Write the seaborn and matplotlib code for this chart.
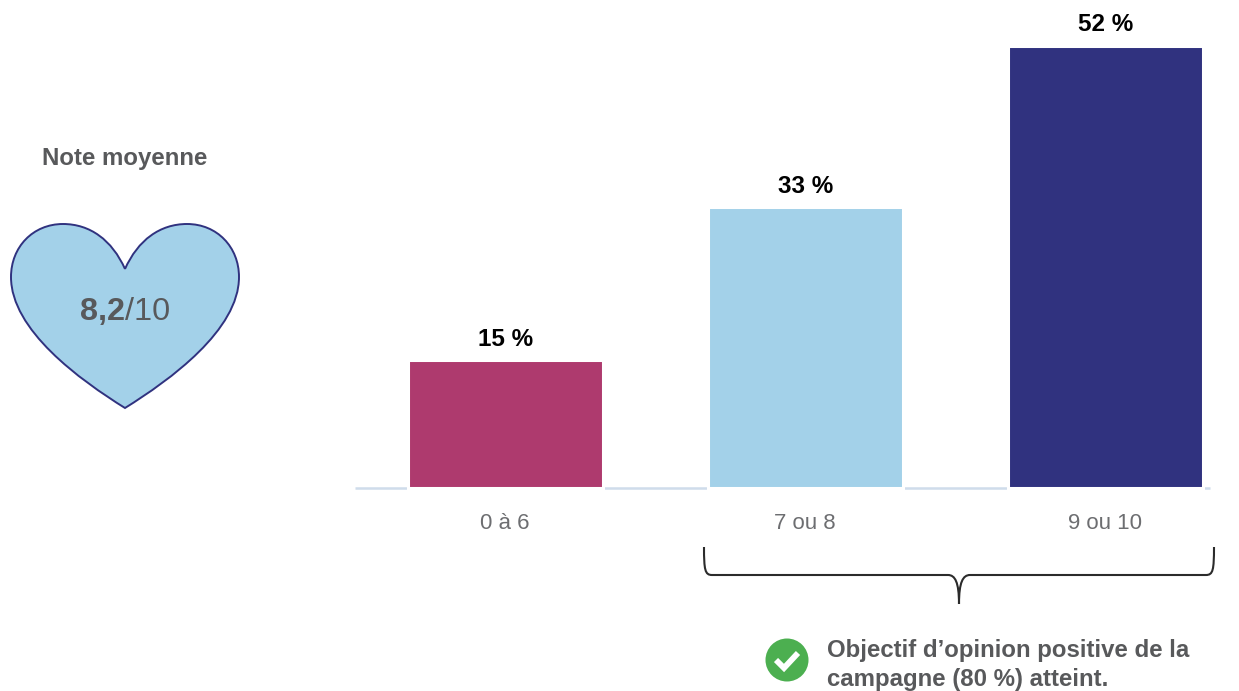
import matplotlib
matplotlib.use('Agg')
import matplotlib.pyplot as plt
from matplotlib.patches import PathPatch, Circle
from matplotlib.path import Path
import pandas as pd
import seaborn as sns

categories = ['0 à 6', '7 ou 8', '9 ou 10']
values = [15, 33, 52]
bar_labels = ['15 %', '33 %', '52 %']
bar_colors = ['#AE3A6E', '#A3D1E9', '#30327F']
note_title = 'Note moyenne'
note_value = '8,2'
note_scale = '/10'
goal_text = 'Objectif d’opinion positive de la\ncampagne (80 %) atteint.'

GREY = '#58595B'

sns.set_style('white')
plt.rcParams['font.family'] = ['Liberation Sans', 'DejaVu Sans']

df = pd.DataFrame({'note': categories, 'pct': values})

W, H = 1239, 691
fig = plt.figure(figsize=(W / 100, H / 100), dpi=100)
ax = fig.add_axes([355.2 / W, 1 - 488 / H, 855 / W, 488 / H])

sns.barplot(data=df, x='note', y='pct', hue='note', palette=bar_colors, legend=False, saturation=1,
            width=0.65, edgecolor='white', linewidth=2.2, ax=ax, clip_on=False)
ax.set_xlim(-0.5, 2.35)
ax.set_ylim(0, 57.4)
ax.set_xlabel('')
ax.set_ylabel('')
ax.set_yticks([])
ax.tick_params(axis='x', length=0, pad=18, labelsize=16, labelcolor='#6D6E71')

sns.despine(ax=ax, left=True)
ax.spines['bottom'].set_color('#CFDCEB')
ax.spines['bottom'].set_linewidth(1.8)
ax.spines['bottom'].set_capstyle('butt')
ax.spines['bottom'].set_zorder(0.5)

for cont, lab in zip(ax.containers, bar_labels):
    ax.bar_label(cont, labels=[lab], padding=7, fontsize=17.5, fontweight='bold', color='black')

# everything else is placed in pixels of the picture
over = fig.add_axes([0, 0, 1, 1], facecolor='none')
over.set_xlim(0, W)
over.set_ylim(H, 0)
over.axis('off')

over.text(125, 158, note_title, ha='center', va='center', fontsize=17.3, fontweight='bold', color=GREY)

heart = [(125, 269),
         (112, 240), (90, 224), (63, 224),
         (33, 224), (11, 247), (11, 277),
         (11, 330), (80, 380), (125, 408),
         (170, 380), (239, 330), (239, 277),
         (239, 247), (217, 224), (187, 224),
         (160, 224), (138, 240), (125, 269)]
heart_codes = [Path.MOVETO] + [Path.CURVE4] * 18
over.add_patch(PathPatch(Path(heart, heart_codes), facecolor='#A3D1E9', edgecolor='#30327F', lw=1.4))

over.text(125, 312, note_value, ha='right', va='center', fontsize=23.3, fontweight='bold', color=GREY)
over.text(125, 312, note_scale, ha='left', va='center', fontsize=23.3, color=GREY)

brace = [(704, 547),
         (704, 570), (705, 575), (712, 575),
         (948, 575),
         (955, 575), (959, 582), (959, 604),
         (959, 582), (963, 575), (970, 575),
         (1206, 575),
         (1213, 575), (1214, 570), (1214, 547)]
brace_codes = [Path.MOVETO, Path.CURVE4, Path.CURVE4, Path.CURVE4, Path.LINETO,
               Path.CURVE4, Path.CURVE4, Path.CURVE4, Path.CURVE4, Path.CURVE4, Path.CURVE4,
               Path.LINETO, Path.CURVE4, Path.CURVE4, Path.CURVE4]
over.add_patch(PathPatch(Path(brace, brace_codes), facecolor='none', edgecolor='#2B2B2B', lw=1.5))

over.add_patch(Circle((787, 660), 21.5, facecolor='#4CAF50', edgecolor='none'))
over.plot([776, 784, 798], [660, 668, 653], color='white', lw=4.2, solid_capstyle='butt', solid_joinstyle='miter')

over.text(827, 665, goal_text, ha='left', va='center', fontsize=17.3, fontweight='bold', color=GREY, linespacing=1.3)

fig.savefig('out.png', dpi=100)
